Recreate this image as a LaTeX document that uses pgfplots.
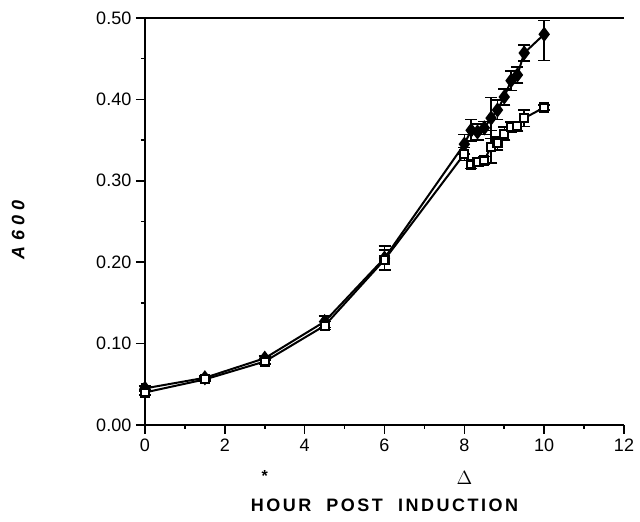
\documentclass[border=0pt]{standalone}
\usepackage{fontspec}
\setmainfont{Liberation Sans}
\newfontfamily\serif{Liberation Serif}
\usepackage{pgfplots}
\pgfplotsset{compat=1.18}
\usepackage{pgfplotstable}

% filled diamonds
\pgfplotstableread{
x     y      ep     em
0     0.045  0.003  0.003
1.5   0.058  0.002  0.002
3     0.082  0.003  0.003
4.5   0.127  0.007  0.007
6     0.205  0.015  0.015
8     0.345  0.012  0.012
8.17  0.362  0.013  0.013
8.33  0.360  0.010  0.010
8.5   0.365  0.008  0.008
8.67  0.377  0.025  0.025
8.83  0.387  0.012  0.012
9     0.403  0.010  0.010
9.17  0.423  0.012  0.012
9.33  0.430  0.010  0.010
9.5   0.457  0.010  0.010
10    0.480  0.017  0.032
}\filled

% open squares
\pgfplotstableread{
x     y      ep     em
0     0.040  0.003  0.003
1.5   0.056  0.002  0.002
3     0.078  0.003  0.003
4.5   0.122  0.005  0.005
6     0.203  0.012  0.012
8     0.333  0.008  0.008
8.17  0.320  0.005  0.005
8.33  0.323  0.005  0.005
8.5   0.325  0.005  0.005
8.67  0.342  0.020  0.020
8.83  0.346  0.008  0.008
9     0.358  0.008  0.008
9.17  0.366  0.006  0.006
9.33  0.367  0.006  0.006
9.5   0.377  0.010  0.010
10    0.390  0.003  0.003
}\open

\begin{document}
\begin{tikzpicture}
\begin{axis}[
    width=359.25pt, height=305.25pt, scale only axis,
    xmin=0, xmax=12, ymin=0, ymax=0.5,
    axis x line=box, axis y line=left,
    axis line style={-, line width=1.2pt},
    xtick={0,2,4,6,8,10,12}, minor xtick={1,3,5,7,9,11},
    ytick={0,0.1,0.2,0.3,0.4,0.5}, minor ytick={0.05,0.15,0.25,0.35,0.45},
    xtick pos=left, ytick pos=left,
    tick align=outside, major tick length=6.75pt, minor tick length=3pt,
    every tick/.style={line width=1.2pt, black},
    yticklabel style={/pgf/number format/.cd, fixed, fixed zerofill, precision=2},
    /pgf/number format/assume math mode=true,
    tick label style={font=\fontsize{13.5}{16}\selectfont},
    clip=false,
]
\addplot[black, line width=1.5pt, mark=diamond*, mark size=4.5pt,
    mark options={solid, fill=black},
    error bars/.cd, y dir=both, y explicit,
    error bar style={line width=1.1pt},
    error mark=-,
    error mark options={rotate=90, mark size=4.5pt, line width=1.1pt}]
    table[x=x, y=y, y error plus=ep, y error minus=em] {\filled};
\addplot[black, line width=1.5pt, mark=square*, mark size=3pt,
    mark options={solid, fill=white, line width=1.6pt},
    error bars/.cd, y dir=both, y explicit,
    error bar style={line width=1.1pt},
    error mark=-,
    error mark options={rotate=90, mark size=4.5pt, line width=1.1pt}]
    table[x=x, y=y, y error plus=ep, y error minus=em] {\open};

\node[rotate=90, font=\fontsize{13.5}{16}\selectfont\bfseries\itshape]
    at (rel axis cs:-0.265,0.48) {A\hspace{4pt}6\hspace{4pt}0\hspace{4pt}0};
\node[font=\fontsize{13.5}{16}\selectfont\bfseries\addfontfeature{LetterSpace=14}]
    at (rel axis cs:0.5,-0.197) {HOUR\ \ POST\ \ INDUCTION};
\node[font=\fontsize{12}{14}\selectfont\bfseries] at (axis cs:3,0) [yshift=-38pt] {*};
\node[font=\fontsize{15}{17}\selectfont\serif] at (axis cs:8,0) [yshift=-40pt] {$\Delta$};
\path (rel axis cs:-0.3027,-0.2359) rectangle (rel axis cs:1.0334,1.0442);
\end{axis}
\end{tikzpicture}
\end{document}
